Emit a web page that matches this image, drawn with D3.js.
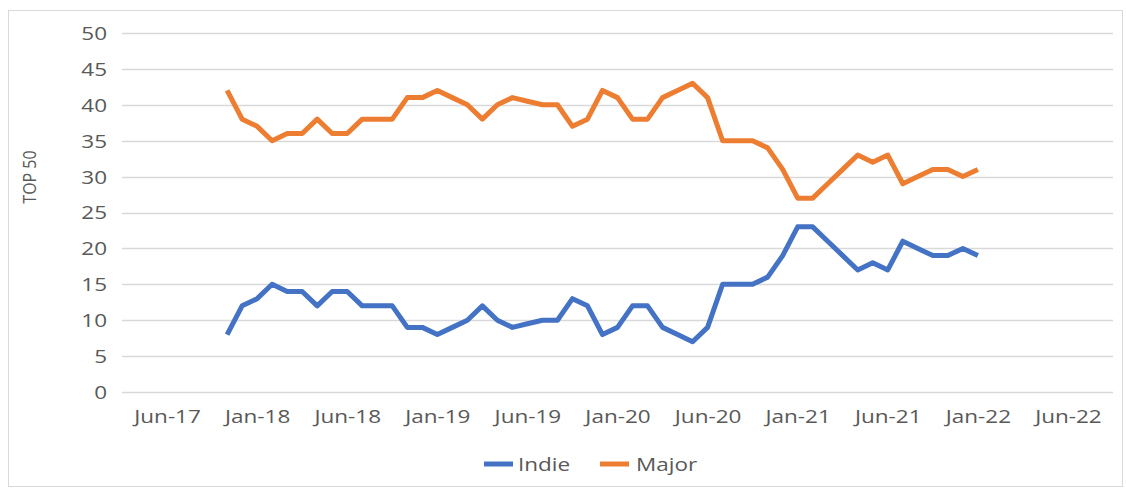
<!DOCTYPE html>
<html>
<head>
<meta charset="utf-8">
<script src="https://cdn.jsdelivr.net/npm/d3@7"></script>
<style>
  html, body { margin: 0; padding: 0; background: #ffffff; }
  svg { display: block; }
  text { font-family: "Open Sans", "Noto Sans", sans-serif; fill: #595959; }
</style>
</head>
<body>
<svg id="chart" width="1126" height="489"></svg>
<script>
// ---- data ----
const tickLabels = ["Jun-17", "Jan-18", "Jun-18", "Jan-19", "Jun-19", "Jan-20", "Jun-20", "Jan-21", "Jun-21", "Jan-22", "Jun-22"];
const firstMonth = 4; // months after Jun-17 of the first data point
const indie = [8, 12, 13, 15, 14, 14, 12, 14, 14, 12, 12, 12, 9, 9, 8, 9, 10, 12, 10, 9,
  9.5, 10, 10, 13, 12, 8, 9, 12, 12, 9, 8, 7, 9, 15, 15, 15, 16, 19, 23, 23,
  21, 19, 17, 18, 17, 21, 20, 19, 19, 20, 19];
const major = [42, 38, 37, 35, 36, 36, 38, 36, 36, 38, 38, 38, 41, 41, 42, 41, 40, 38, 40, 41,
  40.5, 40, 40, 37, 38, 42, 41, 38, 38, 41, 42, 43, 41, 35, 35, 35, 34, 31, 27, 27,
  29, 31, 33, 32, 33, 29, 30, 31, 31, 30, 31];
const yTicks = [0, 5, 10, 15, 20, 25, 30, 35, 40, 45, 50];
const seriesNames = ["Indie", "Major"];
const colors = ["#4472C4", "#ED7D31"];

// ---- layout ----
const svg = d3.select("#chart");
const SX = 1.25; // horizontal text stretch of the reference
const plotLeft = 122, plotRight = 1113, plotTop = 33, plotBottom = 392;

const x = d3.scaleLinear().domain([-3, 63]).range([plotLeft, plotRight]);
const y = d3.scaleLinear().domain([0, 50]).range([plotBottom, plotTop]);

// chart border
svg.append("rect")
  .attr("x", 8.5).attr("y", 10.5).attr("width", 1114).attr("height", 476)
  .attr("fill", "none").attr("stroke", "#d9d9d9").attr("stroke-width", 1);

// gridlines
svg.append("g").selectAll("line").data(yTicks).join("line")
  .attr("x1", plotLeft).attr("x2", plotRight)
  .attr("y1", d => Math.round(y(d)) + 0.5).attr("y2", d => Math.round(y(d)) + 0.5)
  .attr("stroke", "#d9d9d9").attr("stroke-width", 1.3);

// y axis labels
const yAxis = svg.append("g").attr("transform", `translate(${plotLeft},0)`)
  .call(d3.axisLeft(y).tickValues(yTicks).tickSize(0).tickFormat(d3.format("d")));
yAxis.select(".domain").remove();
yAxis.selectAll("text")
  .attr("x", -15 / SX).attr("dy", "0.36em")
  .attr("transform", `scale(${SX},1)`)
  .style("font-size", "18px").style("fill", "#595959")
  .style("font-family", '"Open Sans", "Noto Sans", sans-serif');

// x axis labels
const xTickVals = tickLabels.map((_, i) => i * 6);
const xAxis = svg.append("g").attr("transform", `translate(0,${plotBottom})`)
  .call(d3.axisBottom(x).tickValues(xTickVals).tickSize(0).tickFormat((d, i) => tickLabels[i]));
xAxis.select(".domain").remove();
xAxis.selectAll(".tick").each(function () {
  const t = d3.select(this).select("text");
  t.attr("y", 31).attr("dy", 0)
    .attr("transform", `scale(${SX},1)`)
    .style("font-size", "18px").style("fill", "#595959")
    .style("font-family", '"Open Sans", "Noto Sans", sans-serif');
});

// y title
svg.append("text")
  .attr("transform", "translate(36,177) rotate(-90) scale(1,1.15)")
  .attr("text-anchor", "middle")
  .style("font-size", "16px")
  .text("TOP 50");

// lines
const line = d3.line()
  .x((d, i) => x(firstMonth + i))
  .y(d => y(d));

[indie, major].forEach((vals, k) => {
  svg.append("path")
    .datum(vals)
    .attr("d", line)
    .attr("fill", "none")
    .attr("stroke", colors[k])
    .attr("stroke-width", 5)
    .attr("stroke-linejoin", "round")
    .attr("stroke-linecap", "butt");
});

// legend
const legendItems = [{ x: 484, tx: 518 }, { x: 600, tx: 636 }];
legendItems.forEach((p, k) => {
  svg.append("line")
    .attr("x1", p.x).attr("x2", p.x + 29)
    .attr("y1", 464).attr("y2", 464)
    .attr("stroke", colors[k]).attr("stroke-width", 5);
  svg.append("text")
    .attr("transform", `translate(${p.tx},471) scale(${SX},1)`)
    .style("font-size", "18px")
    .text(seriesNames[k]);
});
</script>
</body>
</html>
